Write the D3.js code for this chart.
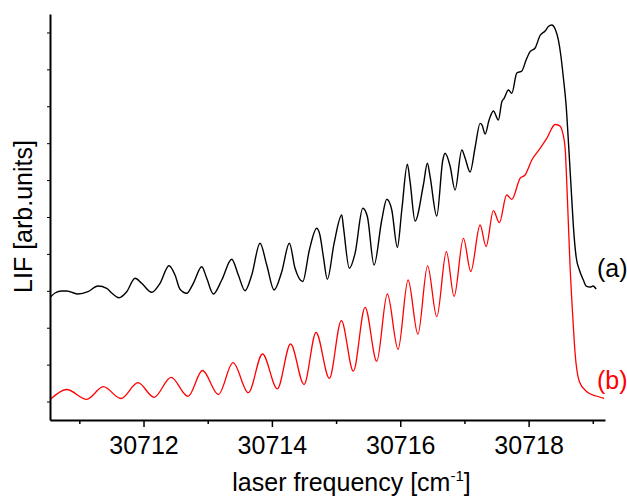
<!DOCTYPE html>
<html>
<head>
  <title>LIF spectrum</title>
  <style type="text/css">
    body { margin: 0; background: #fff; }
    svg { font-family: Arial, "Liberation Sans", sans-serif; }
    .axis path, .axis line { stroke: #000; }
    .trace { fill: none; }
  </style>
</head>
<body>
  <script type="text/javascript" src="https://cdn.jsdelivr.net/npm/d3@7/dist/d3.min.js"></script>
  <script type="text/javascript">
    // measured trace (a), laser frequency in cm-1 and LIF in arb. units
    var freqA = [30710.554, 30710.621, 30710.725, 30710.803, 30710.855, 30710.979, 30711.135, 30711.291,
      30711.427, 30711.504, 30711.618, 30711.738, 30711.868, 30711.972, 30712.128, 30712.257, 30712.397,
      30712.491, 30712.569, 30712.673, 30712.776, 30712.907, 30712.985, 30713.088, 30713.219, 30713.374,
      30713.477, 30713.582, 30713.686, 30713.815, 30713.920, 30714.034, 30714.154, 30714.272, 30714.361,
      30714.481, 30714.584, 30714.699, 30714.750, 30714.802, 30714.864, 30714.969, 30715.089, 30715.114,
      30715.207, 30715.296, 30715.416, 30715.488, 30715.592, 30715.712, 30715.790, 30715.868, 30715.955,
      30716.024, 30716.111, 30716.153, 30716.231, 30716.360, 30716.423, 30716.465, 30716.569, 30716.663,
      30716.698, 30716.776, 30716.854, 30716.959, 30717.010, 30717.088, 30717.166, 30717.244, 30717.275,
      30717.322, 30717.384, 30717.451, 30717.529, 30717.582, 30717.618, 30717.685, 30717.738, 30717.816,
      30717.894, 30717.961, 30718.023, 30718.101, 30718.179, 30718.257, 30718.308, 30718.361, 30718.413,
      30718.464, 30718.501, 30718.542, 30718.584, 30718.623, 30718.673, 30718.698, 30718.740, 30718.791,
      30718.853, 30718.896, 30718.958, 30719.003, 30719.052];
    var lifA = [3.341, 3.441, 3.495, 3.495, 3.476, 3.414, 3.476, 3.630,
      3.568, 3.441, 3.313, 3.476, 3.839, 3.704, 3.460, 3.704, 4.180,
      3.928, 3.541, 3.433, 3.704, 4.153, 3.839, 3.414, 3.793, 4.354,
      3.928, 3.503, 3.928, 4.787, 4.199, 3.522, 4.018, 4.787, 4.110,
      3.752, 4.606, 5.194, 4.999, 4.424, 3.812, 4.787, 5.554, 5.237,
      4.110, 4.516, 5.736, 5.508, 4.199, 5.419, 5.979, 5.690, 4.679,
      5.690, 6.928, 6.456, 5.391, 6.367, 6.955, 6.592, 5.527, 7.044,
      7.226, 6.882, 6.231, 7.315, 7.098, 6.719, 7.383, 8.038, 7.992,
      7.749, 8.128, 8.372, 8.128, 8.616, 8.716, 8.941, 8.851, 9.401,
      9.455, 9.753, 9.978, 10.079, 10.417, 10.539, 10.661, 10.702, 10.593,
      10.295, 9.889, 9.266, 8.534, 7.451, 5.960, 5.237, 4.424, 4.064,
      3.793, 3.630, 3.603, 3.630, 3.549];

    // simulated trace (b)
    var freqB = [30710.554, 30710.803, 30711.115, 30711.374, 30711.649, 30711.914, 30712.164, 30712.429,
      30712.693, 30712.919, 30713.166, 30713.395, 30713.633, 30713.854, 30714.085, 30714.291, 30714.501,
      30714.688, 30714.895, 30715.082, 30715.269, 30715.452, 30715.634, 30715.799, 30715.966, 30716.122,
      30716.275, 30716.426, 30716.569, 30716.719, 30716.839, 30716.984, 30717.099, 30717.244, 30717.337,
      30717.451, 30717.545, 30717.657, 30717.738, 30717.867, 30717.945, 30718.050, 30718.179, 30718.283,
      30718.413, 30718.480, 30718.533, 30718.569, 30718.604, 30718.646, 30718.688, 30718.724, 30718.791,
      30718.907, 30719.052, 30719.176];
    var lifB = [0.569, 0.826, 0.561, 0.902, 0.582, 1.011, 0.615, 1.157,
      0.642, 1.341, 0.691, 1.552, 0.740, 1.788, 0.845, 2.059, 0.962,
      2.371, 1.130, 2.690, 1.322, 3.053, 1.593, 3.414, 1.915, 3.793,
      2.325, 4.178, 2.799, 4.560, 3.351, 4.923, 4.023, 5.283, 4.701,
      5.671, 5.345, 6.096, 5.979, 6.548, 6.638, 7.044, 7.361, 7.632,
      8.006, 7.974, 7.768, 7.361, 6.006, 4.153, 2.799, 1.807, 1.038,
      0.767, 0.650, 0.588];

    var xTicks = [30712, 30714, 30716, 30718];
    var xMinorTicks = [30711, 30713, 30715, 30717, 30719];
    var yTicks = [0.5, 1.5, 2.5, 3.5, 4.5, 5.5, 6.5, 7.5, 8.5, 9.5, 10.5];

    var w = 627;
    var h = 497;
    var plotLeft = 50, plotRight = 605, plotTop = 14, plotBottom = 420;

    var svg = d3.select("body")
      .append("svg")
      .attr("width", w)
      .attr("height", h);

    var x = d3.scaleLinear()
      .domain([30710.543, 30719.19])
      .range([plotLeft, plotRight]);

    var y = d3.scaleLinear()
      .domain([0, 11])
      .range([plotBottom, plotTop]);

    // traces
    var lineA = d3.line()
      .x(function(d, i) { return x(freqA[i]); })
      .y(function(d, i) { return y(lifA[i]); })
      .curve(d3.curveMonotoneX);

    var lineB = d3.line()
      .x(function(d, i) { return x(freqB[i]); })
      .y(function(d, i) { return y(lifB[i]); })
      .curve(d3.curveMonotoneX);

    svg.append("path")
      .attr("class", "trace")
      .attr("d", lineA(freqA))
      .attr("stroke", "#000")
      .attr("stroke-width", 1.4);

    svg.append("path")
      .attr("class", "trace")
      .attr("d", lineB(freqB))
      .attr("stroke", "#ff0000")
      .attr("stroke-width", 1.3);

    // axes
    svg.append("g")
      .attr("class", "axis")
      .attr("transform", "translate(0," + plotBottom + ")")
      .call(d3.axisBottom(x).tickValues(xMinorTicks).tickSize(4).tickSizeOuter(0).tickFormat(""))
      .call(g => g.select(".domain").remove())
      .selectAll("line").attr("stroke-width", 1.5);

    var xAxis = svg.append("g")
      .attr("class", "axis")
      .attr("transform", "translate(0," + plotBottom + ")")
      .call(d3.axisBottom(x).tickValues(xTicks).tickSize(7).tickSizeOuter(0).tickPadding(9).tickFormat(d3.format("d")));
    xAxis.select(".domain").attr("stroke-width", 2);
    xAxis.selectAll("line").attr("stroke-width", 1.5);
    xAxis.selectAll("text")
      .attr("font-size", "25px")
      .attr("font-family", "Arial, 'Liberation Sans', sans-serif")
      .attr("fill", "#000");

    var yAxis = svg.append("g")
      .attr("class", "axis")
      .attr("transform", "translate(" + plotLeft + ",0)")
      .call(d3.axisLeft(y).tickValues(yTicks).tickSize(3).tickSizeOuter(0).tickFormat(""));
    yAxis.select(".domain").attr("stroke-width", 2);
    yAxis.selectAll("line").attr("stroke-width", 1);

    // labels
    var title = svg.append("text")
      .attr("x", 351.5)
      .attr("y", 491)
      .attr("text-anchor", "middle")
      .attr("font-size", "25px");
    title.append("tspan").text("laser frequency [cm");
    title.append("tspan").attr("font-size", "15px").attr("dy", -10).text("-1");
    title.append("tspan").attr("dy", 10).text("]");

    svg.append("text")
      .attr("transform", "translate(31.5,216.5) rotate(-90)")
      .attr("text-anchor", "middle")
      .attr("font-size", "25px")
      .text("LIF [arb.units]");

    svg.append("text")
      .attr("x", 597)
      .attr("y", 277)
      .attr("font-size", "25px")
      .attr("fill", "#000")
      .text("(a)");

    svg.append("text")
      .attr("x", 597)
      .attr("y", 388.5)
      .attr("font-size", "25px")
      .attr("fill", "#ff0000")
      .text("(b)");
  </script>
</body>
</html>
